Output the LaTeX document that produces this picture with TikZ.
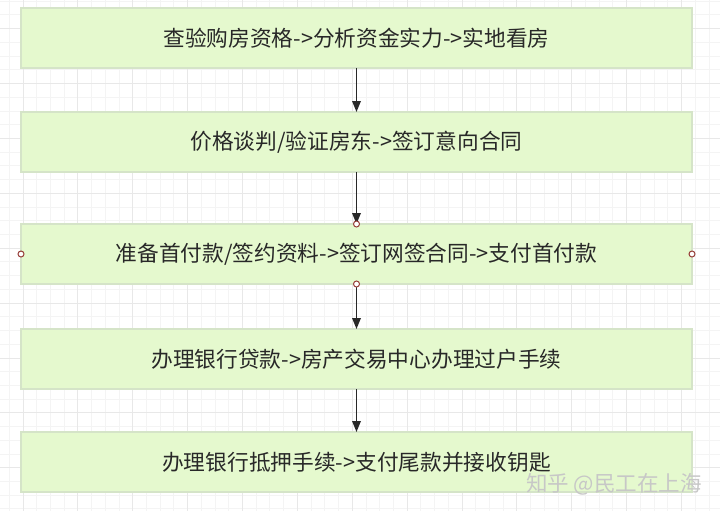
\documentclass[tikz,border=0pt]{standalone}
\usepackage{fontspec}
\usetikzlibrary{arrows.meta,positioning}
\newfontfamily\cjk{Noto Sans CJK SC}
\definecolor{boxGreen}{RGB}{229,249,206}
\definecolor{boxEdge}{RGB}{213,228,200}
\definecolor{gridMinor}{RGB}{244,244,244}
\definecolor{gridMajor}{RGB}{232,232,232}
\definecolor{handleRed}{RGB}{150,60,55}
\definecolor{textDark}{RGB}{40,40,40}

\begin{document}
\begin{tikzpicture}[x=1pt,y=-1pt,
    box/.style={draw=boxEdge,line width=1.2pt,outer sep=0pt,fill=boxGreen,minimum width=671pt,minimum height=60pt,inner sep=0pt,font=\cjk\fontsize{21.7}{26}\selectfont,text=textDark},
    arrow/.style={-{Triangle[length=11pt,width=8.5pt]},line width=1.7pt,draw=textDark},
    handle/.style={draw=handleRed,fill=white,line width=1pt}
  ]
  \useasboundingbox (0,0) rectangle (720,511);
  \fill[white] (0,0) rectangle (720,511);
  % grid
  \foreach \k in {0,...,51} \draw[gridMinor,line width=1pt] ({9.3+13.72*\k},0) -- ++(0,511);
  \foreach \k in {0,...,37} \draw[gridMinor,line width=1pt] (0,{1.28+13.72*\k}) -- ++(720,0);
  \foreach \k in {1,5,...,49} \draw[gridMajor,line width=1pt] ({9.3+13.72*\k},0) -- ++(0,511);
  \foreach \k in {2,6,...,34} \draw[gridMajor,line width=1pt] (0,{1.28+13.72*\k}) -- ++(720,0);

  \node[box] (b1) at (356.5,38) {查验购房资格->分析资金实力->实地看房};
  \node[box,below=44pt of b1] (b2) {价格谈判/验证房东->签订意向合同};
  \node[box,below=52pt of b2] (b3) {准备首付款/签约资料->签订网签合同->支付首付款};
  \node[box,below=45pt of b3] (b4) {办理银行贷款->房产交易中心办理过户手续};
  \node[box,below=43pt of b4] (b5) {办理银行抵押手续->支付尾款并接收钥匙};

  \draw[arrow] (b1) -- (b2);
  \draw[arrow] (b2) -- (b3);
  \draw[arrow] (b3) -- (b4);
  \draw[arrow] (b4) -- (b5);

  \foreach \a in {north,south,east,west} \draw[handle] (b3.\a) circle (3pt);

  \node[font=\cjk\fontsize{21.5}{26}\selectfont,text=black!22] (wm) at (614,484) {知乎 @民工在上海};
\end{tikzpicture}
\end{document}
